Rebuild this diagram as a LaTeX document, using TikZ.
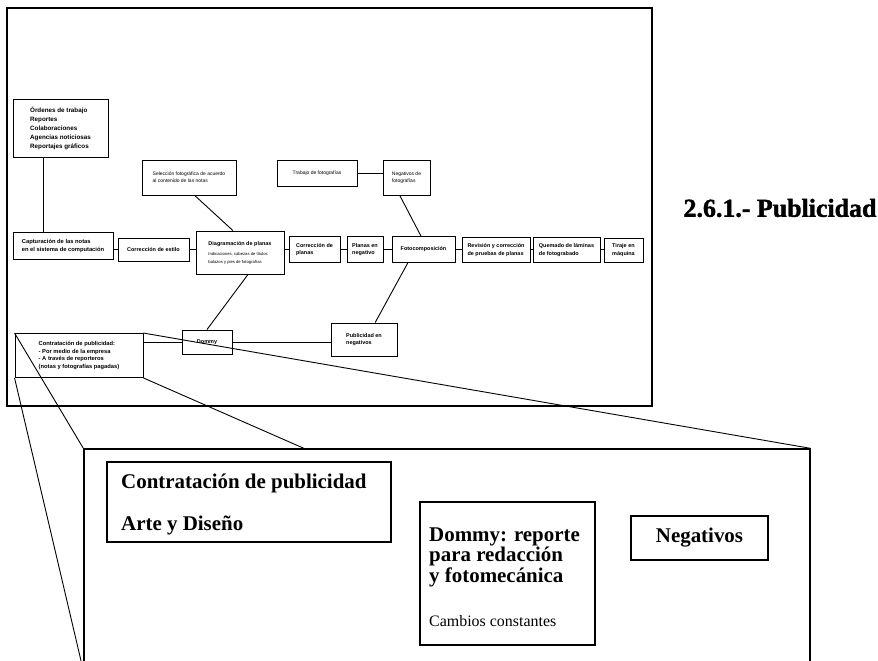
\documentclass[tikz,border=0pt]{standalone}
\usepackage{fontspec}
\setmainfont{Liberation Serif}
\newfontfamily\sansf{Liberation Sans}
\newfontfamily\heavyfont[FakeBold=1.5]{Liberation Serif}
\usetikzlibrary{calc}
\tikzset{
  sbox/.style={draw, line width=0.9bp, fill=white, inner sep=1bp, align=left,
    font=\sansf\bfseries\fontsize{5.5}{7.5}\selectfont},
  lightbox/.style={sbox, font=\sansf\fontsize{5}{7}\selectfont},
  wh/.style 2 args={minimum width=#1bp, minimum height=#2bp},
  conn/.style={line width=0.9bp},
  zoomline/.style={line width=0.9bp},
  bigbox/.style={draw, line width=1.3bp, fill=white},
  ibox/.style={draw, line width=1.1bp, fill=white},
  bigtext/.style={anchor=base west, inner sep=0pt, font=\bfseries\fontsize{21}{24}\selectfont},
  midtext/.style={anchor=base west, inner sep=0pt, font=\fontsize{16}{18}\selectfont},
}
\begin{document}
\begin{tikzpicture}[x=1bp,y=-1bp]
\useasboundingbox (0,0) rectangle (878,661);
% frame
\draw[line width=1.2bp] (7,8) rectangle (652,406);
\coordinate (row) at (0,249.5);
\coordinate (vx) at (43,0);
% upper boxes
\node[sbox, wh={95}{58}, font=\sansf\bfseries\fontsize{6.3}{9}\selectfont] (ordenes) at (60.5,128) {Órdenes de trabajo\\Reportes\\Colaboraciones\\Agencias noticiosas\\Reportajes gráficos};
\node[sbox, wh={100}{27}, font=\sansf\bfseries\fontsize{5.8}{8}\selectfont] (captura) at (63,246) {Capturación de las notas\\en el sistema de computación};
\node[sbox, wh={71}{23}] (estilo) at (153.5,249.5) {Corrección de estilo};
\node[sbox, wh={88}{43}] (diag) at (240,252.5) {Diagramación de planas\\[3bp]{\mdseries\fontsize{4.2}{5.5}\selectfont Indicaciones, cabezas de títulos}\\{\mdseries\fontsize{4.2}{5.5}\selectfont balazos y pies de fotografías}};
\node[lightbox, wh={94}{35}] (seleccion) at (189,177.5) {Selección fotográfica de acuerdo\\al contenido de las notas};
\node[lightbox, wh={80}{26}] (trabajo) at (317,173) {Trabajo de fotografías};
\node[lightbox, wh={47}{35}] (negfoto) at (406.5,177.5) {Negativos de\\fotografías};
\node[sbox, wh={51}{26}] (corrpl) at (314.5,249.5) {Corrección de\\planas};
\node[sbox, wh={36}{26}] (planneg) at (365,249.5) {Planas en\\negativo};
\node[sbox, wh={63}{26}] (foto) at (423.5,249.5) {Fotocomposición};
\node[sbox, wh={68}{25}] (revision) at (496,250) {Revisión y corrección\\de pruebas de planas};
\node[sbox, wh={67}{25}] (quemado) at (566.5,250) {Quemado de láminas\\de fotograbado};
\node[sbox, wh={39}{24}] (tiraje) at (623.5,250) {Tiraje en\\máquina};
\node[sbox, wh={128}{44}, font=\sansf\bfseries\fontsize{5.8}{8}\selectfont] (contrat) at (79,355.5) {Contratación de publicidad:\\ - Por medio de la empresa\\ - A través de reporteros\\(notas y fotografías pagadas)};
\node[sbox, wh={50}{24}] (dommy) at (207,342) {Dommy};
\node[sbox, wh={66}{33}] (pubneg) at (364,339.5) {Publicidad en\\negativos};
% connectors
\draw[conn] (ordenes.south -| vx) -- (captura.north -| vx);
\draw[conn] (captura.east |- row) -- (estilo.west |- row);
\draw[conn] (estilo.east |- row) -- (diag.west |- row);
\draw[conn] (diag.east |- row) -- (corrpl.west |- row);
\draw[conn] (corrpl.east |- row) -- (planneg.west |- row);
\draw[conn] (planneg.east |- row) -- (foto.west |- row);
\draw[conn] (foto.east |- row) -- (revision.west |- row);
\draw[conn] (revision.east |- row) -- (quemado.west |- row);
\draw[conn] (quemado.east |- row) -- (tiraje.west |- row);
\draw[conn] ($(seleccion.south west)!0.56!(seleccion.south east)$) -- ($(diag.north west)!0.42!(diag.north east)$);
\draw[conn] ($(diag.south west)!0.59!(diag.south east)$) -- (dommy.north);
\draw[conn] (trabajo.east) -- (negfoto.west |- trabajo.east);
\draw[conn] ($(negfoto.south west)!0.36!(negfoto.south east)$) -- ($(foto.north west)!0.46!(foto.north east)$);
\draw[conn] ($(pubneg.north west)!0.667!(pubneg.north east)$) -- ($(foto.south west)!0.254!(foto.south east)$);
\draw[conn] (dommy.west -| contrat.east) -- (dommy.west);
\draw[conn] (dommy.east) -- (pubneg.west |- dommy.east);
% title
\node[font=\heavyfont\bfseries\fontsize{26}{26}\selectfont, inner sep=0pt] (title) at (780,208) {2.6.1.- Publicidad};
% big zoom box
\node[bigbox, wh={726}{221}] (big) at (447,559.5) {};
\draw[zoomline] (contrat.north west) -- (big.north west);
\draw[zoomline] (contrat.south west) -- (big.south west);
\draw[zoomline] (contrat.north east) -- (big.north east);
\begin{scope}
\clip (0,0) rectangle (878,449);
\draw[zoomline] (contrat.south east) -- (big.south east);
\end{scope}
\node[bigbox, wh={726}{221}] (big2) at (447,559.5) {};
% inner
\node[ibox, wh={284}{80}] (ic) at (249,502) {};
\node[ibox, wh={175}{143}] (idommy) at (507.5,573.5) {};
\node[ibox, wh={137}{44}, font=\bfseries\fontsize{21}{24}\selectfont] (ineg) at (699.5,538) {Negativos};
\node[bigtext] (t1) at (121,488) {Contratación de publicidad};
\node[bigtext] (t2) at (121,530) {Arte y Diseño};
\node[bigtext] (t3) at (429,541) {Dommy: reporte};
\node[bigtext] (t4) at (429,561) {para redacción};
\node[bigtext] (t5) at (429,582) {y fotomecánica};
\node[midtext] (t6) at (429,626) {Cambios constantes};
\end{tikzpicture}
\end{document}
